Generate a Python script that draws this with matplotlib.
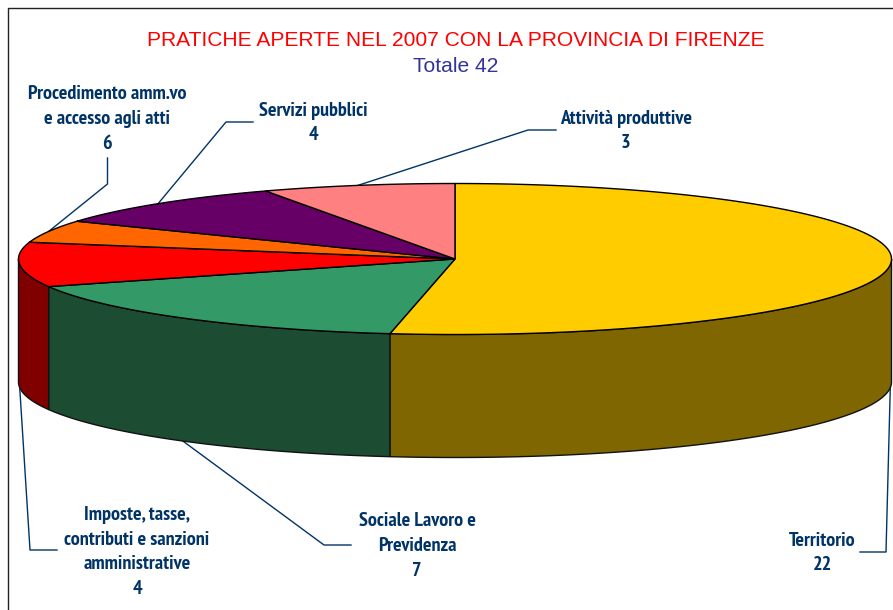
import numpy as np
import matplotlib
matplotlib.use('Agg')
import matplotlib.pyplot as plt

titolo = 'PRATICHE APERTE NEL 2007 CON LA PROVINCIA DI FIRENZE'
sottotitolo = 'Totale 42'
categorie = ['Territorio', 'Sociale Lavoro e\nPrevidenza',
             'Imposte, tasse,\ncontributi e sanzioni\namministrative',
             'Procedimento amm.vo\ne accesso agli atti', 'Servizi pubblici',
             'Attività produttive']
# slices as drawn (they sum to 42); the printed labels say 6 for Procedimento
valori = [22, 7, 4, 2, 4, 3]
etichette = [22, 7, 4, 6, 4, 3]
colori = ['#FFCC00', '#339966', '#FF0000', '#FF6600', '#660066', '#FF8080']
colori_lato = ['#806600', '#1C4D33', '#800000', '#803300', '#330033', '#804040']

cx, cy, rx, ry, spessore = 455, 259, 436.5, 75.5, 123
font_etichette = ['PT Sans Narrow', 'Liberation Sans']

# label centre, first elbow, second elbow of each leader
pos_testo = [(822, 553), (417, 546), (137, 552), (107, 119), (313, 123), (626, 131)]
gomiti = [[(860, 552), (886, 552)], [(351, 545), (324, 545)], [(57, 550), (30, 550)],
          [(107.5, 158), (107.5, 184)], [(253, 122), (226, 122)], [(556, 130), (528, 130)]]

fig = plt.figure(figsize=(8.93, 6.10), dpi=100)
ax = fig.add_axes([0, 0, 1, 1])
ax.set_xlim(0, 893)
ax.set_ylim(610, 0)
ax.axis('off')


def arco(a, b):
    t = np.radians(np.linspace(a, b, 200))
    return cx + rx * np.sin(t), cy - ry * np.cos(t)


lim = np.concatenate([[0], np.cumsum(valori)]) * 360 / sum(valori)

# side wall, only the front half of the ellipse shows
for i in range(len(valori)):
    a, b = max(lim[i], 90), min(lim[i + 1], 270)
    if a >= b:
        continue
    x, y = arco(a, b)
    ax.fill(np.r_[x, x[::-1]], np.r_[y, y[::-1] + spessore],
            fc=colori_lato[i], ec='#111111', lw=1, zorder=2)

# top face
for i in range(len(valori)):
    x, y = arco(lim[i], lim[i + 1])
    ax.fill(np.r_[cx, x], np.r_[cy, y], fc=colori[i], ec='black', lw=1, zorder=3)

# leaders and labels
for i in range(len(valori)):
    m = (lim[i] + lim[i + 1]) / 2
    x0, y0 = arco(m, m)
    x0, y0 = x0[0], y0[0]
    if 90 < m < 270:
        y0 += spessore
    pts = [gomiti[i][0], gomiti[i][1], (x0, y0)]
    ax.plot([p[0] for p in pts], [p[1] for p in pts], color='#003366', lw=1, zorder=1)
    ax.text(pos_testo[i][0], pos_testo[i][1], categorie[i] + '\n' + str(etichette[i]),
            ha='center', va='center', color='#003366', fontsize=14.5,
            fontweight='bold', linespacing=1.47, family=font_etichette)

ax.text(456, 41, titolo, ha='center', va='center', color='#FF0000', fontsize=15.1,
        family='Liberation Sans')
ax.text(456, 67, sottotitolo, ha='center', va='center', color='#333399', fontsize=15.1,
        family='Liberation Sans')

# chart frame
ax.plot([7.5, 7.5, 893], [610, 7.5, 7.5], color='#222222', lw=1, zorder=1)

fig.savefig('out.png', dpi=100)
